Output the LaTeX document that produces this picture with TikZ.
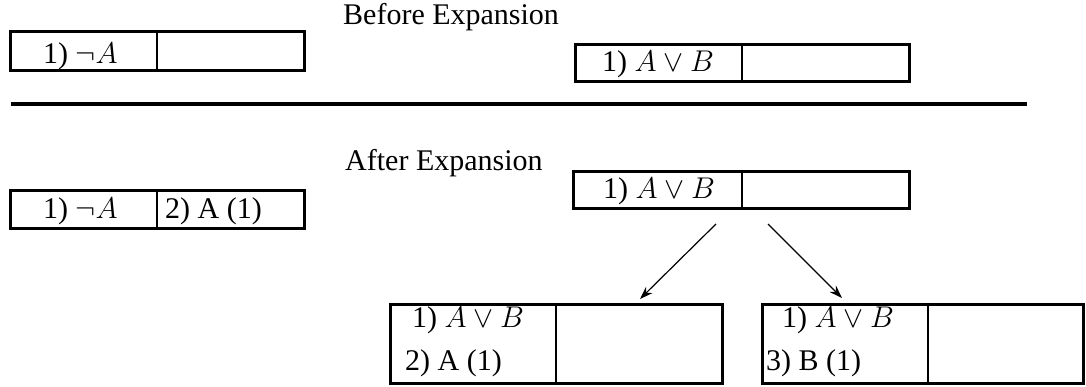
\RequirePackage{fix-cm}
\documentclass[tikz,border=0pt]{standalone}
\usepackage{fontspec}
\setmainfont{Liberation Serif}
\usetikzlibrary{arrows.meta}
\begin{document}
\begin{tikzpicture}[x=1pt,y=-1pt,
  cellbox/.style={draw, line width=3pt, inner sep=0pt, rectangle},
  divider/.style={line width=2pt},
  txt/.style={anchor=base west, inner sep=0pt, font=\fontsize{30}{40}\selectfont},
  arr/.style={line width=1.2pt, -{Stealth[length=13pt,width=9pt]}},
  rule/.style={line width=3.2pt}]
\useasboundingbox (0,0) rectangle (1086,387);
% titles
\node[txt] (t1) at (343,25) {Before Expansion};
\node[txt] (t2) at (345,171) {After Expansion};
% rule
\coordinate (r1) at (11,104);
\coordinate (r2) at (1027,104);
\draw[rule] (r1) -- (r2);
% boxes
\node[cellbox, minimum width=294pt, minimum height=39pt] (tl) at (157,51.5) {};
\draw[divider] (157,32) -- (157,71);
\node[txt] (tla) at (43,64) {1) $\neg A$};

\node[cellbox, minimum width=334pt, minimum height=37pt] (tr) at (742,63.5) {};
\draw[divider] (742,45) -- (742,82);
\node[txt] (tra) at (602,72) {1) $A\vee B$};

\node[cellbox, minimum width=294pt, minimum height=38pt] (bl) at (157,210) {};
\draw[divider] (157,191) -- (157,229);
\node[txt] (bla) at (43,219) {1) $\neg A$};
\node[txt] (blb) at (165,219) {2) A (1)};

\node[cellbox, minimum width=336pt, minimum height=37pt] (m) at (741,190.5) {};
\draw[divider] (742,172) -- (742,209);
\node[txt] (ma) at (603,199) {1) $A\vee B$};

\node[cellbox, minimum width=332pt, minimum height=79pt] (b1) at (556,343.5) {};
\draw[divider] (556,304) -- (556,383);
\node[txt] (b1a) at (412,327) {1) $A\vee B$};
\node[txt] (b1b) at (405,370) {2) A (1)};

\node[cellbox, minimum width=321pt, minimum height=79pt] (b2) at (922.5,343.5) {};
\draw[divider] (928,304) -- (928,383);
\node[txt] (b2a) at (782,327) {1) $A\vee B$};
\node[txt] (b2b) at (766,370) {3) B (1)};
% arrows
\coordinate (a1s) at (716,224);
\coordinate (a1e) at (640,299);
\coordinate (a2s) at (768,224);
\coordinate (a2e) at (842,298);
\draw[arr] (a1s) -- (a1e);
\draw[arr] (a2s) -- (a2e);
\end{tikzpicture}
\end{document}
